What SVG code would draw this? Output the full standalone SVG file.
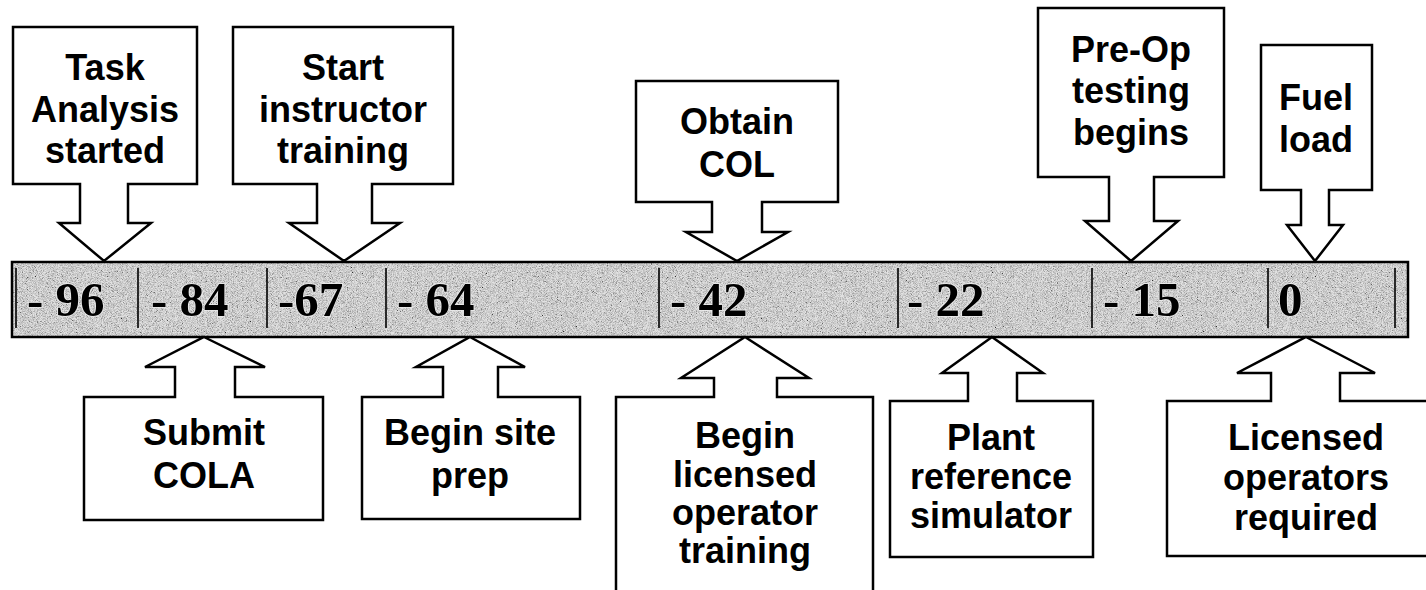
<svg xmlns="http://www.w3.org/2000/svg" width="1426" height="590" viewBox="0 0 1426 590">
<defs>
<filter id="noise" x="0" y="0" width="100%" height="100%" filterUnits="objectBoundingBox">
<feTurbulence type="fractalNoise" baseFrequency="1.2" numOctaves="2" seed="7" result="t"/>
<feColorMatrix in="t" type="matrix" values="0.33 0.33 0.33 0 0  0.33 0.33 0.33 0 0  0.33 0.33 0.33 0 0  0 0 0 0 1" result="g"/>
<feComponentTransfer in="g">
<feFuncR type="linear" slope="3.2" intercept="-0.85"/>
<feFuncG type="linear" slope="3.2" intercept="-0.85"/>
<feFuncB type="linear" slope="3.2" intercept="-0.85"/>
</feComponentTransfer>
</filter>
<style>
.box{fill:#fff;stroke:#000;stroke-width:2.5;stroke-linejoin:miter}
.lbl{font-family:"Liberation Sans",Arial,sans-serif;font-weight:bold;font-size:36px;fill:#000;text-anchor:middle}
.num{font-family:"Liberation Serif","Times New Roman",serif;font-weight:bold;font-size:49px;fill:#000;stroke:#eee;stroke-width:1.5;paint-order:stroke}
.div{stroke:#000;stroke-width:1.6}
</style>
</defs>
<rect width="1426" height="590" fill="#fff"/>

<g id="timeline">
<rect x="12" y="262" width="1396" height="75" fill="#a0a0a0"/>
<rect x="12" y="262" width="1396" height="75" filter="url(#noise)" opacity="0.7"/>
<rect x="12" y="262" width="1396" height="75" fill="none" stroke="#000" stroke-width="2.5"/>
<g class="div">
<line x1="16" y1="268" x2="16" y2="328"/>
<line x1="138" y1="268" x2="138" y2="328"/>
<line x1="267" y1="268" x2="267" y2="328"/>
<line x1="386" y1="268" x2="386" y2="328"/>
<line x1="659" y1="268" x2="659" y2="328"/>
<line x1="898" y1="268" x2="898" y2="328"/>
<line x1="1092" y1="268" x2="1092" y2="328"/>
<line x1="1268" y1="268" x2="1268" y2="328"/>
<line x1="1395" y1="268" x2="1395" y2="328"/>
</g>
<text class="num" x="27" y="316" xml:space="preserve">- 96</text>
<text class="num" x="151" y="316" xml:space="preserve">- 84</text>
<text class="num" x="278" y="316">-67</text>
<text class="num" x="397" y="316" xml:space="preserve">- 64</text>
<text class="num" x="670" y="316" xml:space="preserve">- 42</text>
<text class="num" x="907" y="316" xml:space="preserve">- 22</text>
<text class="num" x="1103" y="316" xml:space="preserve">- 15</text>
<text class="num" x="1278" y="316">0</text>
</g>

<g id="connectors"></g>

<g id="task-analysis">
<path class="box" d="M13,27 H197 V184 H128 V223 H151 L104,261 L59,223 H80 V184 H13 Z"/>
<text class="lbl" x="105" y="80">Task</text>
<text class="lbl" x="105" y="122">Analysis</text>
<text class="lbl" x="105" y="163">started</text>
</g>

<g id="start-instructor">
<path class="box" d="M233,27 H453 V184 H372 V223 H400 L344,261 L289,223 H317 V184 H233 Z"/>
<text class="lbl" x="343" y="80">Start</text>
<text class="lbl" x="343" y="122">instructor</text>
<text class="lbl" x="343" y="163">training</text>
</g>

<g id="obtain-col">
<path class="box" d="M636,81 H838 V202 H762 V232 H788 L737,261 L686,232 H712 V202 H636 Z"/>
<text class="lbl" x="737" y="134">Obtain</text>
<text class="lbl" x="737" y="177">COL</text>
</g>

<g id="preop">
<path class="box" d="M1038,8 H1224 V177 H1154 V221 H1178 L1131,261 L1085,221 H1109 V177 H1038 Z"/>
<text class="lbl" x="1131" y="62">Pre-Op</text>
<text class="lbl" x="1131" y="103">testing</text>
<text class="lbl" x="1131" y="145">begins</text>
</g>

<g id="fuel-load">
<path class="box" d="M1261,45 H1372 V190 H1329 V225 H1343 L1315,261 L1287,225 H1301 V190 H1261 Z"/>
<text class="lbl" x="1316" y="110">Fuel</text>
<text class="lbl" x="1316" y="152">load</text>
</g>

<g id="submit-cola">
<path class="box" d="M204,337 L265,367 H235 V397 H323 V520 H84 V397 H175 V367 H145 Z"/>
<text class="lbl" x="204" y="445">Submit</text>
<text class="lbl" x="204" y="488">COLA</text>
</g>

<g id="site-prep">
<path class="box" d="M470,337 L525,367 H498 V397 H580 V519 H362 V397 H443 V367 H416 Z"/>
<text class="lbl" x="470" y="445">Begin site</text>
<text class="lbl" x="470" y="488">prep</text>
</g>

<g id="licensed-training">
<path class="box" d="M745,337 L809,378 H777 V397 H873 V600 H616 V397 H714 V378 H681 Z"/>
<text class="lbl" x="745" y="448">Begin</text>
<text class="lbl" x="745" y="487">licensed</text>
<text class="lbl" x="745" y="525">operator</text>
<text class="lbl" x="745" y="563">training</text>
</g>

<g id="plant-simulator">
<path class="box" d="M992,337 L1043,373 H1017 V401 H1093 V557 H890 V401 H968 V373 H942 Z"/>
<text class="lbl" x="991" y="450">Plant</text>
<text class="lbl" x="991" y="489">reference</text>
<text class="lbl" x="991" y="528">simulator</text>
</g>

<g id="licensed-operators">
<path class="box" d="M1306,337 L1375,373 H1340 V401 H1440 V556 H1167 V401 H1271 V373 H1237 Z"/>
<text class="lbl" x="1306" y="450">Licensed</text>
<text class="lbl" x="1306" y="490">operators</text>
<text class="lbl" x="1306" y="530">required</text>
</g>
</svg>
